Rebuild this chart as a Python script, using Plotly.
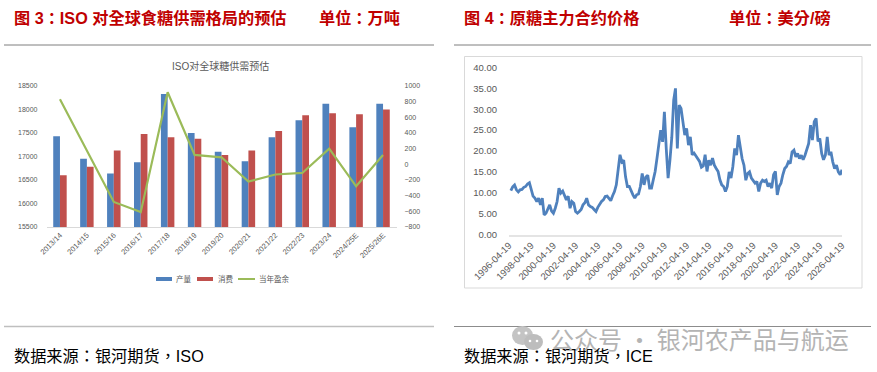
import pandas as pd
import plotly.graph_objects as go

W, H = 877, 372

seasons = ["2013/14", "2014/15", "2015/16", "2016/17", "2017/18", "2018/19", "2019/20",
           "2020/21", "2021/22", "2022/23", "2023/24", "2024/25E", "2025/26E"]
production = [17430, 16950, 16640, 16880, 18330, 17500, 17100, 16900, 17410, 17770, 18120, 17620, 18120]
consumption = [16600, 16780, 17130, 17480, 17410, 17380, 17030, 17130, 17540, 17880, 17920, 17900, 18000]
surplus = [830, 180, -480, -610, 920, 120, 90, -220, -130, -110, 200, -280, 120]

price_dates = pd.date_range("1996-05-19", periods=180, freq="2MS") + pd.Timedelta(days=18)
raw_sugar_price = [
    10.5, 11.4, 11.85, 10.7, 10.2, 10.7, 10.8, 11.3, 11.5, 12.1, 12.4, 10.7,
    9.2, 8.7, 7.9, 8.7, 7.1, 8.7, 4.7, 5.1, 6.3, 7.1, 5.6, 5.1,
    6.3, 7.9, 11.1, 9.9, 10.4, 9.1, 8.3, 9.2, 6.3, 7.9, 7.5, 5.5,
    5.1, 5.5, 6.0, 7.1, 7.6, 8.7, 7.1, 6.7, 6.5, 6.0, 5.5, 6.5,
    7.3, 7.9, 8.3, 9.1, 9.2, 8.7, 8.1, 9.3, 10.3, 11.9, 16.2, 19.1,
    17.4, 17.8, 13.8, 11.5, 11.5, 10.3, 9.5, 8.7, 9.5, 9.7, 11.5, 14.6,
    11.9, 13.8, 14.2, 11.1, 11.1, 13.1, 15.1, 18.3, 22.2, 25.0, 22.2, 29.4,
    20.6, 13.5, 17.8, 23.3, 32.2, 35.0, 20.6, 31.0, 30.2, 26.6, 23.8, 25.4,
    21.4, 23.4, 19.1, 19.5, 18.7, 18.3, 17.5, 16.1, 16.4, 19.1, 15.1, 17.8,
    16.6, 18.3, 16.6, 15.8, 15.1, 13.1, 11.9, 11.5, 10.3, 11.5, 15.0, 13.5,
    16.3, 20.6, 19.0, 23.8, 20.6, 18.2, 16.6, 13.0, 14.6, 15.0, 13.5, 13.0,
    12.3, 12.7, 10.3, 12.3, 13.0, 12.7, 13.0, 11.5, 12.3, 11.1, 14.3, 15.1,
    9.5, 11.5, 12.3, 14.3, 15.8, 16.3, 17.4, 17.0, 19.8, 20.2, 18.6, 19.4,
    18.2, 19.0, 17.9, 19.0, 20.6, 21.8, 26.2, 22.6, 27.0, 27.8, 22.3, 23.0,
    19.4, 17.9, 19.0, 23.4, 19.0, 19.8, 17.4, 15.8, 16.6, 15.0, 14.3, 15.5,
]
date_ticks = [f"{y}-04-19" for y in range(1996, 2027, 2)]

SANS = "Liberation Sans, Noto Sans CJK SC, sans-serif"
CJK = "Liberation Sans, Noto Sans CJK TC, sans-serif"
GREY = "#595959"
BLUE, RED, GREEN = "#4F81BD", "#C0504D", "#9BBB59"


def px(x):
    return x / W


def py(y):
    return 1 - y / H


fig = go.Figure()
fig.add_bar(x=seasons, y=production, name="产量", marker_color=BLUE, xaxis="x", yaxis="y")
fig.add_bar(x=seasons, y=consumption, name="消费", marker_color=RED, xaxis="x", yaxis="y")
fig.add_scatter(x=seasons, y=surplus, name="当年盈余", mode="lines",
                line=dict(color=GREEN, width=2.2), xaxis="x", yaxis="y2")
fig.add_scatter(x=price_dates, y=raw_sugar_price, mode="lines",
                line=dict(color=BLUE, width=2.8), xaxis="x2", yaxis="y3")

fig.update_layout(
    template="none",
    width=W, height=H, margin=dict(l=0, r=0, t=0, b=0, autoexpand=False),
    paper_bgcolor="white", plot_bgcolor="white",
    barmode="group", bargap=0.5, bargroupgap=0,
    font=dict(family=SANS, color=GREY),
    showlegend=False,
    xaxis=dict(domain=[px(46.5), px(396.5)], anchor="y", tickangle=-45, ticks="", showgrid=False,
               automargin=False, tickfont=dict(size=7.5, color=GREY), showline=True, linecolor="#d9d9d9",
               linewidth=1, categoryorder="array", categoryarray=seasons),
    yaxis=dict(domain=[py(227), py(86)], range=[15500, 18500], dtick=500, showgrid=False, ticks="",
               automargin=False, tickformat="d", zeroline=False, tickfont=dict(size=7, color=GREY),
               ticklabelstandoff=8),
    yaxis2=dict(overlaying="y", side="right", range=[-800, 1000], dtick=200, showgrid=False, ticks="",
                automargin=False, zeroline=False, tickfont=dict(size=7, color=GREY), ticklabelstandoff=7,
                anchor="x"),
    xaxis2=dict(domain=[px(509), px(842)], anchor="y3", type="date",
                range=["1996-04-19", "2026-04-19"], tickmode="array", tickvals=date_ticks,
                ticktext=date_ticks, tickangle=-45, ticks="", showgrid=False, automargin=False,
                tickfont=dict(size=9.5, color=GREY), showline=True, linecolor="#e4e4e4", linewidth=1.5),
    yaxis3=dict(domain=[py(234.5), py(67.5)], range=[0, 40], dtick=5, tickformat=".2f", showgrid=False,
                automargin=False, ticks="", zeroline=False, tickfont=dict(size=9.5, color=GREY), anchor="x2",
                ticklabelstandoff=11),
)

texts = [
    ("图 3：ISO 对全球食糖供需格局的预估", 12, 18, 16.2, "#C00000", True),
    ("单位：万吨", 317, 18, 16.2, "#C00000", True),
    ("图 4：原糖主力合约价格", 462, 18, 16.2, "#C00000", True),
    ("单位：美分/磅", 727, 18, 16.2, "#C00000", True),
    ("数据来源：银河期货，ISO", 12, 356, 16.2, "#000000", False),
    ("数据来源：银河期货，ICE", 462, 356, 16.2, "#000000", False),
]


def label(txt, x, y, size, col, family=CJK, anchor="left"):
    fig.add_annotation(text=txt, x=px(x), y=py(y), xref="paper", yref="paper",
                       xanchor=anchor, yanchor="middle", showarrow=False,
                       font=dict(size=size, color=col, family=family))


for txt, x, y, size, col, bold in texts:
    label(f"<b>{txt}</b>" if bold else txt, x, y, size, col)
label("ISO对全球糖供需预估", 220, 66, 10, GREY, SANS, "center")
label("公众号 · 银河农产品与航运", 548, 338, 24, "#b4b4b4", "Noto Sans CJK SC")


def line(x0, y0, x1, y1, col, w=1.0):
    fig.add_shape(type="line", xref="paper", yref="paper", x0=px(x0), x1=px(x1), y0=py(y0), y1=py(y1),
                  line=dict(color=col, width=w))


def ellipse(x0, y0, x1, y1, col):
    fig.add_shape(type="circle", xref="paper", yref="paper", x0=px(x0), x1=px(x1), y0=py(y0), y1=py(y1),
                  fillcolor=col, line=dict(width=0))


def swatch(x0, x1, col, text, tx):
    fig.add_shape(type="rect", xref="paper", yref="paper", x0=px(x0), x1=px(x1), y0=py(281), y1=py(277),
                  fillcolor=col, line=dict(width=0))
    label(text, tx, 279, 7.5, GREY, SANS)


swatch(156, 172, BLUE, "产量", 174)
swatch(197, 213, RED, "消费", 216)
line(238, 279, 255, 279, GREEN, 2)
label("当年盈余", 257, 279, 7.5, GREY, SANS)

line(4, 45, 434, 45, "#7f7f7f")
line(454, 45, 871, 45, "#7f7f7f")
line(4, 326.5, 434, 326.5, "#bfbfbf", 1.5)
line(454, 326.5, 871, 326.5, "#8c8c8c", 1.2)
fig.add_shape(type="rect", xref="paper", yref="paper", x0=px(464.5), x1=px(862), y0=py(288), y1=py(56.5),
              line=dict(color="#d9d9d9", width=1), fillcolor="rgba(0,0,0,0)")
# WeChat mark next to the watermark
ellipse(512, 326, 533, 345, "#c4c4c4")
ellipse(524, 334, 543, 350, "#bdbdbd")
for cx, cy in [(519, 333), (526, 333)]:
    ellipse(cx - 1.5, cy - 1.5, cx + 1.5, cy + 1.5, "white")
for cx, cy in [(530, 341), (537, 341)]:
    ellipse(cx - 1.3, cy - 1.3, cx + 1.3, cy + 1.3, "white")

fig.write_html("out.html", config={"displayModeBar": False}, post_script="document.body.style.margin='0';")
